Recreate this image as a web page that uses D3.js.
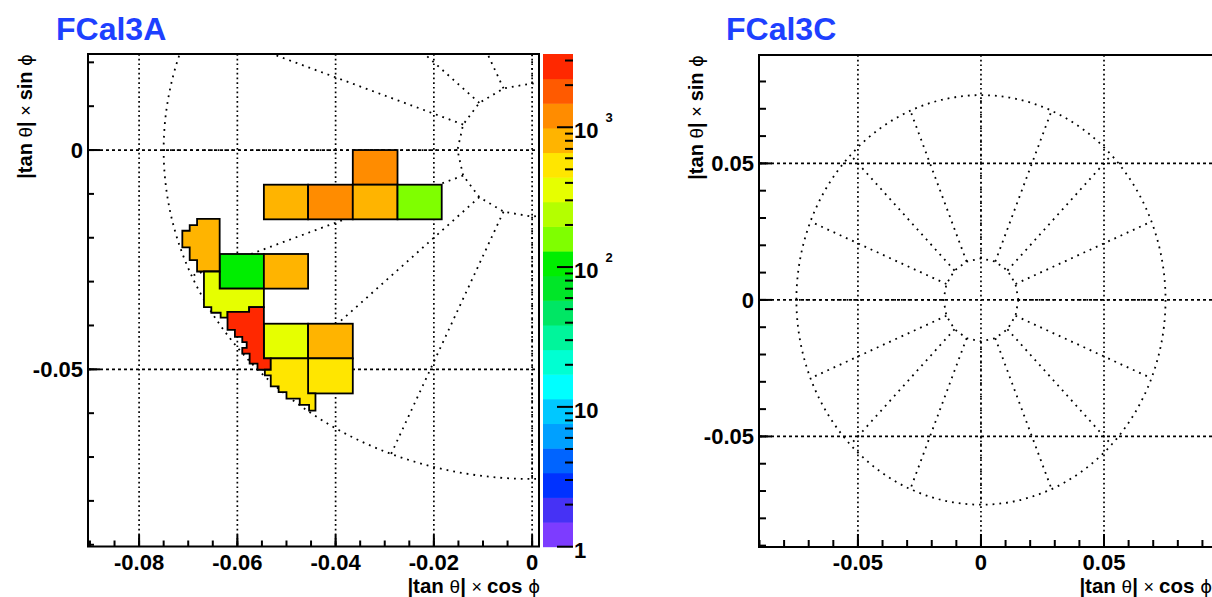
<!DOCTYPE html>
<html>
<head>
<meta charset="utf-8">
<script src="https://cdn.jsdelivr.net/npm/d3@7"></script>
<style>
body { margin: 0; background: #fff; }
svg { display: block; font-family: "Liberation Sans", Arial, Helvetica, sans-serif; }
</style>
</head>
<body>
<svg id="chart" width="1212" height="597"></svg>
<script>

// FCal3A tile grid (bin edges in |tan theta| cos phi and |tan theta| sin phi)
const x_edges = [-0.0726, -0.0636, -0.0546, -0.0456, -0.0365, -0.0274, -0.0184];
const y_edges = [0, -0.0079, -0.0158, -0.0237, -0.0316, -0.0396, -0.0475, -0.0555];

// rectangular tiles : column index, row index, entries
const tile_cols   = [4, 2, 3, 4, 5, 1, 2, 2, 3, 3];
const tile_rows   = [0, 1, 1, 1, 1, 3, 3, 5, 5, 6];
const tile_counts = [1200, 800, 1200, 800, 160, 105, 800, 370, 800, 540];

// tiles on the outer edge, they follow the tube pattern so they are stepped
const edge_counts = [800, 370, 3340, 540];
const edge_shapes = [
    [[-0.0682, -0.0157], [-0.0636, -0.0157], [-0.0636, -0.0277], [-0.0682, -0.0277],
     [-0.0682, -0.0251], [-0.0697, -0.0251], [-0.0697, -0.0222], [-0.0712, -0.0222],
     [-0.0712, -0.0184], [-0.0697, -0.0184], [-0.0697, -0.0171], [-0.0682, -0.0171]],
    [[-0.0668, -0.0277], [-0.0636, -0.0277], [-0.0636, -0.0316], [-0.0546, -0.0316],
     [-0.0546, -0.0358], [-0.0576, -0.0358], [-0.0576, -0.0369], [-0.0620, -0.0369],
     [-0.0620, -0.0382], [-0.0634, -0.0382], [-0.0634, -0.0371], [-0.0653, -0.0371],
     [-0.0653, -0.0358], [-0.0668, -0.0358]],
    [[-0.0620, -0.0369], [-0.0576, -0.0369], [-0.0576, -0.0358], [-0.0546, -0.0358],
     [-0.0546, -0.0475], [-0.0532, -0.0475], [-0.0532, -0.0501], [-0.0559, -0.0501],
     [-0.0559, -0.0487], [-0.0575, -0.0487], [-0.0575, -0.0464], [-0.0590, -0.0464],
     [-0.0590, -0.0451], [-0.0581, -0.0451], [-0.0581, -0.0438], [-0.0590, -0.0438],
     [-0.0590, -0.0426], [-0.0605, -0.0426], [-0.0605, -0.0410], [-0.0620, -0.0410]],
    [[-0.0532, -0.0475], [-0.0456, -0.0475], [-0.0456, -0.0555], [-0.0441, -0.0555],
     [-0.0441, -0.0594], [-0.0454, -0.0594], [-0.0454, -0.0581], [-0.0473, -0.0581],
     [-0.0473, -0.0567], [-0.0500, -0.0567], [-0.0500, -0.0552], [-0.0516, -0.0552],
     [-0.0516, -0.0539], [-0.0532, -0.0539], [-0.0532, -0.0514], [-0.0544, -0.0514],
     [-0.0544, -0.0501], [-0.0532, -0.0501]]
];

// calorimeter segmentation drawn on both panels
const n_sectors = 16;
const r_inner = 0.0152;
const r_outer = 0.075;

// axis ticks
const a_x_major = [-0.08, -0.06, -0.04, -0.02, 0];
const a_x_labels = ['-0.08', '-0.06', '-0.04', '-0.02', '0'];
const a_y_major = [-0.05, 0];
const a_y_labels = ['-0.05', '0'];
const c_x_major = [-0.05, 0, 0.05];
const c_x_labels = ['-0.05', '0', '0.05'];
const c_y_major = [-0.05, 0, 0.05];
const c_y_labels = ['-0.05', '0', '0.05'];

// colour palette, bottom to top
const palette_colors = ['#7d3cff', '#4632f5', '#0032ff', '#0064ff', '#00a0ff', '#00c8ff',
    '#00ffff', '#00ffd2', '#00f59b', '#00e664', '#00e628', '#00ee00', '#7fff00', '#b4ff00',
    '#e6ff00', '#ffe600', '#ffb400', '#ff8c00', '#ff5a00', '#ff2800'];
const palette_labels = [[1, '1', ''], [10, '10', ''], [100, '10', '2'], [1000, '10', '3']];

const svg = d3.select('#chart');
const title_blue = '#1e40ff';

const z_max = d3.max(tile_counts.concat(edge_counts));
const z_color = d3.scaleQuantize()
    .domain([0, Math.log10(z_max)])
    .range(palette_colors);

function axisTitle(sel, trig) {
    sel.append('tspan').attr('font-weight', 'bold').text('|tan ');
    sel.append('tspan').attr('font-size', 19).text('θ');
    sel.append('tspan').attr('font-weight', 'bold').text('| ');
    sel.append('tspan').attr('font-size', 18).text('× ');
    sel.append('tspan').attr('font-weight', 'bold').text(trig + ' ');
    sel.append('tspan').attr('font-family', 'DejaVu Sans').attr('font-size', 18).text('ϕ');
}

function drawPanel(p) {
    const xs = d3.scaleLinear().domain(p.xdom).range([p.left, p.right]);
    const ys = d3.scaleLinear().domain(p.ydom).range([p.bottom, p.top]);

    const g = svg.append('g');
    svg.append('clipPath').attr('id', p.id + '_clip')
        .append('rect')
        .attr('x', p.left).attr('y', p.top)
        .attr('width', p.right - p.left).attr('height', p.bottom - p.top);

    const inner = g.append('g').attr('clip-path', 'url(#' + p.id + '_clip)');

    // grid
    inner.selectAll('.vgrid')
        .data(p.x_major)
        .enter()
        .append('line')
        .attr('x1', d => xs(d)).attr('x2', d => xs(d))
        .attr('y1', p.top).attr('y2', p.bottom)
        .style('stroke', 'black')
        .style('stroke-width', 1.7)
        .style('stroke-dasharray', '1.7,3');
    inner.selectAll('.hgrid')
        .data(p.y_major)
        .enter()
        .append('line')
        .attr('x1', p.left).attr('x2', p.right)
        .attr('y1', d => ys(d)).attr('y2', d => ys(d))
        .style('stroke', 'black')
        .style('stroke-width', 1.7)
        .style('stroke-dasharray', '3,3');

    // segmentation
    const angles = d3.range(n_sectors).map(i => i * 2 * Math.PI / n_sectors);
    const seg_style = s => s.style('fill', 'none').style('stroke', 'black')
        .style('stroke-width', 1.8).style('stroke-dasharray', '1.8,5');

    inner.append('ellipse')
        .attr('cx', xs(0)).attr('cy', ys(0))
        .attr('rx', xs(r_outer) - xs(0)).attr('ry', ys(0) - ys(r_outer))
        .call(seg_style);

    const line = d3.line().x(d => xs(d[0])).y(d => ys(d[1]));
    inner.append('path')
        .attr('d', line(angles.map(a => [r_inner * Math.cos(a), r_inner * Math.sin(a)])) + 'Z')
        .call(seg_style);

    inner.selectAll('.spoke')
        .data(angles)
        .enter()
        .append('path')
        .attr('d', a => line([[r_inner * Math.cos(a), r_inner * Math.sin(a)],
                              [r_outer * Math.cos(a), r_outer * Math.sin(a)]]))
        .call(seg_style);

    // tiles
    if (p.tiles) {
        inner.selectAll('.tile')
            .data(tile_counts.map((c, i) => ({col: tile_cols[i], row: tile_rows[i], count: c})))
            .enter()
            .append('rect')
            .attr('x', d => xs(x_edges[d.col]))
            .attr('y', d => ys(y_edges[d.row]))
            .attr('width', d => xs(x_edges[d.col + 1]) - xs(x_edges[d.col]))
            .attr('height', d => ys(y_edges[d.row + 1]) - ys(y_edges[d.row]))
            .style('fill', d => z_color(Math.log10(d.count)))
            .style('stroke', 'black')
            .style('stroke-width', 1.8);

        inner.selectAll('.edge')
            .data(edge_shapes.map((s, i) => ({pts: s, count: edge_counts[i]})))
            .enter()
            .append('path')
            .attr('d', d => line(d.pts) + 'Z')
            .style('fill', d => z_color(Math.log10(d.count)))
            .style('stroke', 'black')
            .style('stroke-width', 1.8)
            .style('stroke-linejoin', 'miter');
    }

    // ticks
    g.selectAll('.xminor')
        .data(p.x_minor)
        .enter()
        .append('line')
        .attr('x1', d => xs(d)).attr('x2', d => xs(d))
        .attr('y1', p.bottom).attr('y2', p.bottom - p.minor)
        .style('stroke', 'black').style('stroke-width', 2);
    g.selectAll('.xmajor')
        .data(p.x_major)
        .enter()
        .append('line')
        .attr('x1', d => xs(d)).attr('x2', d => xs(d))
        .attr('y1', p.bottom).attr('y2', p.bottom - p.major)
        .style('stroke', 'black').style('stroke-width', 2);
    g.selectAll('.yminor')
        .data(p.y_minor)
        .enter()
        .append('line')
        .attr('x1', p.left).attr('x2', p.left + p.minor)
        .attr('y1', d => ys(d)).attr('y2', d => ys(d))
        .style('stroke', 'black').style('stroke-width', 2);
    g.selectAll('.ymajor')
        .data(p.y_major)
        .enter()
        .append('line')
        .attr('x1', p.left).attr('x2', p.left + p.major)
        .attr('y1', d => ys(d)).attr('y2', d => ys(d))
        .style('stroke', 'black').style('stroke-width', 2);

    // frame
    g.append('rect')
        .attr('x', p.left).attr('y', p.top)
        .attr('width', p.right - p.left).attr('height', p.bottom - p.top)
        .style('fill', 'none').style('stroke', 'black').style('stroke-width', 2);

    // tick labels
    g.selectAll('.xlab')
        .data(p.x_major)
        .enter()
        .append('text')
        .attr('x', d => xs(d)).attr('y', 570)
        .attr('text-anchor', 'middle')
        .attr('font-size', 22).attr('font-weight', 'bold')
        .text((d, i) => p.x_labels[i]);
    g.selectAll('.ylab')
        .data(p.y_major)
        .enter()
        .append('text')
        .attr('x', p.left - 5).attr('y', d => ys(d) + 8)
        .attr('text-anchor', 'end')
        .attr('font-size', 22).attr('font-weight', 'bold')
        .text((d, i) => p.y_labels[i]);

    // axis titles
    g.append('text')
        .attr('x', p.right_title).attr('y', 593)
        .attr('text-anchor', 'end').attr('font-size', 20.5)
        .call(axisTitle, 'cos');
    g.append('text')
        .attr('transform', 'translate(' + p.ytitle_x + ',' + p.top + ') rotate(-90)')
        .attr('text-anchor', 'end').attr('font-size', 20)
        .call(axisTitle, 'sin');

    // title
    g.append('text')
        .attr('x', p.title_x).attr('y', 40)
        .attr('font-size', 32).attr('font-weight', 'bold')
        .style('fill', title_blue)
        .text(p.title);
}

drawPanel({
    id: 'fcal3a', title: 'FCal3A', title_x: 56,
    left: 88, right: 539, top: 54, bottom: 546.5,
    xdom: [-0.0904, 0.0014], ydom: [-0.0904, 0.0219],
    x_major: a_x_major, x_labels: a_x_labels,
    y_major: a_y_major, y_labels: a_y_labels,
    x_minor: d3.range(-18, 1).map(i => i * 0.005),
    y_minor: d3.range(-9, 3).map(i => i * 0.01),
    major: 12, minor: 6,
    right_title: 540, ytitle_x: 32,
    tiles: true
});

drawPanel({
    id: 'fcal3c', title: 'FCal3C', title_x: 726,
    left: 759, right: 1214, top: 55, bottom: 547,
    xdom: [-0.0902, 0.0947], ydom: [-0.0905, 0.0897],
    x_major: c_x_major, x_labels: c_x_labels,
    y_major: c_y_major, y_labels: c_y_labels,
    x_minor: d3.range(-9, 10).map(i => i * 0.01),
    y_minor: d3.range(-9, 9).map(i => i * 0.01),
    major: 13, minor: 7,
    right_title: 1212, ytitle_x: 703,
    tiles: false
});

// colour palette
const pal_left = 543, pal_right = 573, pal_top = 54, pal_bottom = 546.7;
const z_scale = d3.scaleLog().domain([1, z_max]).range([pal_bottom, pal_top]);
const band_edges = d3.range(palette_colors.length + 1)
    .map(i => Math.pow(z_max, i / palette_colors.length));

const pal = svg.append('g');
pal.selectAll('.band')
    .data(palette_colors)
    .enter()
    .append('rect')
    .attr('x', pal_left)
    .attr('width', pal_right - pal_left)
    .attr('y', (d, i) => z_scale(band_edges[i + 1]))
    .attr('height', (d, i) => z_scale(band_edges[i]) - z_scale(band_edges[i + 1]) + 0.5)
    .style('fill', d => d);

pal.selectAll('.ztick')
    .data(z_scale.ticks())
    .enter()
    .append('line')
    .attr('x1', pal_right)
    .attr('x2', d => Math.abs(Math.log10(d) - Math.round(Math.log10(d))) < 1e-9 ? pal_right - 16 : pal_right - 8)
    .attr('y1', d => z_scale(d)).attr('y2', d => z_scale(d))
    .style('stroke', 'black').style('stroke-width', 2);

const zlab = pal.selectAll('.zlab')
    .data(palette_labels)
    .enter()
    .append('text')
    .attr('x', 574)
    .attr('y', d => z_scale(d[0]) + 11)
    .attr('font-size', 22).attr('font-weight', 'bold');
zlab.append('tspan').text(d => d[1]);
zlab.append('tspan')
    .attr('dx', 7).attr('dy', -16)
    .attr('font-size', 13)
    .text(d => d[2]);

</script>
</body>
</html>
